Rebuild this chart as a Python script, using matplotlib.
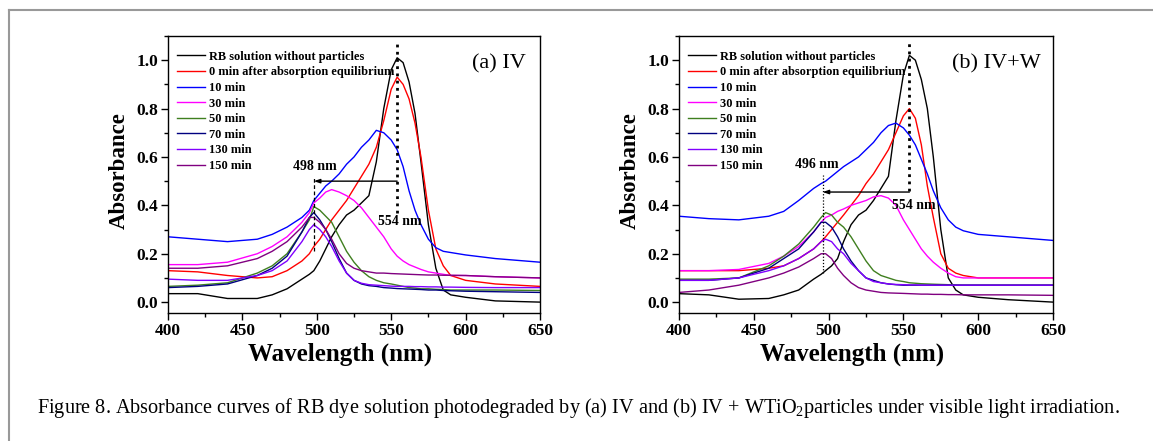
import matplotlib
matplotlib.use("Agg")
import matplotlib.pyplot as plt
import matplotlib.ticker as mticker
from matplotlib.lines import Line2D

plt.rcParams["font.family"] = ["Liberation Serif", "DejaVu Serif"]
plt.rcParams["mathtext.fontset"] = "custom"
plt.rcParams["mathtext.rm"] = "Liberation Serif"

# wavelength grid (nm) shared by all curves
wavelength = [400, 420, 440, 460, 470, 480, 490, 495, 498, 502, 506, 510, 515, 520, 525, 530,
              535, 540, 545, 550, 554, 558, 562, 566, 570, 575, 580, 585, 590, 600, 620, 650]

labels = ["RB solution without particles", "0 min after absorption equilibrium", "10 min",
          "30 min", "50 min", "70 min", "130 min", "150 min"]
colors = ["#000000", "#ff0000", "#0000ff", "#ff00ff", "#3f7f1f", "#000080", "#8000ff", "#800080"]

# ---- (a) IV ----
a_rb = [.035, .035, .015, .015, .03, .055, .095, .115, .13, .17, .22, .27, .32, .36, .38, .41,
        .44, .58, .80, .96, 1.01, .99, .91, .78, .58, .32, .14, .05, .03, .02, .005, .0]
a_0 = [.13, .125, .11, .1, .105, .13, .17, .2, .23, .26, .3, .34, .38, .42, .47, .52,
       .57, .64, .75, .88, .93, .9, .84, .74, .6, .38, .22, .15, .11, .09, .075, .065]
a_10 = [.27, .26, .25, .26, .28, .31, .35, .38, .42, .45, .48, .5, .53, .57, .6, .64,
        .67, .71, .70, .67, .63, .56, .46, .38, .32, .26, .225, .21, .205, .195, .18, .165]
a_30 = [.155, .155, .165, .2, .23, .27, .33, .37, .41, .43, .455, .465, .455, .44, .42, .39,
        .35, .31, .27, .22, .19, .17, .155, .145, .135, .125, .12, .115, .11, .11, .105, .1]
a_50 = [.065, .07, .08, .12, .15, .2, .29, .34, .395, .38, .355, .33, .27, .21, .165, .13,
        .105, .09, .08, .075, .07, .065, .06, .058, .055, .055, .053, .052, .05, .05, .05, .048]
a_70 = [.06, .065, .075, .11, .14, .19, .29, .35, .37, .34, .3, .25, .18, .12, .09, .075,
        .068, .065, .06, .058, .056, .055, .054, .053, .052, .05, .05, .048, .047, .045, .043, .04]
a_130 = [.095, .09, .09, .11, .13, .17, .25, .3, .32, .3, .27, .23, .17, .12, .09, .078,
         .072, .07, .068, .066, .065, .065, .065, .064, .064, .063, .063, .062, .062, .061, .06, .06]
a_150 = [.14, .14, .15, .18, .21, .25, .31, .35, .35, .33, .3, .26, .2, .16, .14, .13,
         .125, .12, .12, .118, .117, .116, .115, .114, .113, .112, .112, .111, .111, .11, .105, .1]

# ---- (b) IV+W ----
b_rb = [.035, .03, .012, .015, .03, .05, .095, .115, .13, .15, .18, .25, .32, .36, .38, .42,
        .47, .52, .75, .94, 1.02, 1.0, .92, .8, .6, .3, .1, .05, .03, .02, .01, .0]
b_0 = [.13, .13, .13, .14, .15, .18, .22, .25, .27, .3, .33, .36, .4, .44, .49, .53,
       .58, .63, .7, .77, .8, .76, .65, .48, .35, .2, .14, .12, .11, .1, .1, .1]
b_10 = [.355, .345, .34, .355, .375, .42, .47, .49, .5, .52, .54, .56, .58, .6, .63, .66,
        .7, .73, .74, .72, .69, .65, .59, .53, .46, .39, .34, .31, .295, .28, .27, .255]
b_30 = [.13, .13, .135, .16, .19, .23, .29, .33, .35, .36, .375, .385, .4, .41, .42, .435,
        .44, .43, .4, .34, .3, .26, .22, .19, .165, .14, .12, .105, .1, .1, .1, .1]
b_50 = [.095, .095, .1, .15, .19, .24, .31, .35, .37, .36, .33, .31, .27, .22, .17, .13,
        .11, .1, .09, .085, .08, .078, .076, .075, .074, .073, .072, .071, .07, .07, .07, .07]
b_70 = [.09, .09, .1, .14, .18, .22, .29, .33, .33, .31, .27, .22, .17, .13, .1, .09,
        .08, .075, .072, .07, .07, .07, .07, .07, .07, .07, .07, .07, .07, .07, .07, .07]
b_130 = [.09, .09, .1, .13, .15, .18, .22, .25, .26, .25, .22, .2, .16, .13, .1, .085,
         .08, .075, .073, .072, .071, .071, .07, .07, .07, .07, .07, .07, .07, .07, .07, .07]
b_150 = [.04, .05, .07, .1, .12, .145, .18, .2, .2, .18, .14, .11, .08, .06, .05, .045,
         .04, .038, .037, .036, .035, .034, .033, .033, .032, .032, .031, .031, .03, .03, .03, .028]

panel_a = [a_rb, a_0, a_10, a_30, a_50, a_70, a_130, a_150]
panel_b = [b_rb, b_0, b_10, b_30, b_50, b_70, b_130, b_150]

caption = ("Figure 8. Absorbance curves of RB dye solution photodegraded by (a) IV and (b) IV + "
           "WTiO$_2$particles under visible light irradiation.")


def draw_panel(ax, series, title, title_x, left_nm, left_ann, right_ann, arrow_y, dot_bottom,
               left_style):
    for vals, c, lab in zip(series, colors, labels):
        ax.plot(wavelength, vals, color=c, lw=1.0, label=lab)

    # peak shift markers
    ax.plot([554, 554], [dot_bottom, 1.08], color="black", lw=2.0, ls=(0, (1, 1.6)))
    ax.plot([left_nm, left_nm], left_ann[2], color="black", lw=0.9, ls=left_style)
    ax.annotate("", xy=(left_nm, arrow_y), xytext=(554, arrow_y),
                arrowprops=dict(arrowstyle="-|>,head_length=0.35,head_width=0.12",
                                color="black", lw=1.0, shrinkA=0, shrinkB=0))
    ax.text(left_ann[0], left_ann[1], f"{left_nm} nm", ha="center", va="center",
            fontsize=10, fontweight="bold")
    ax.text(right_ann[0], right_ann[1], "554 nm", ha="center", va="center",
            fontsize=10, fontweight="bold")

    ax.text(title_x, 0.9, title, transform=ax.transAxes, ha="center", va="center", fontsize=16)

    ax.set_xlim(400, 650)
    ax.set_ylim(-0.045, 1.1)
    ax.xaxis.set_major_locator(mticker.MultipleLocator(50))
    ax.xaxis.set_minor_locator(mticker.MultipleLocator(25))
    ax.yaxis.set_major_locator(mticker.MultipleLocator(0.2))
    ax.yaxis.set_minor_locator(mticker.MultipleLocator(0.1))
    ax.yaxis.set_major_formatter(mticker.FormatStrFormatter("%.1f"))
    ax.tick_params(which="major", direction="out", length=5, width=1.0, labelsize=12.5, pad=2)
    ax.tick_params(which="minor", direction="out", length=3, width=1.0)
    for lab in ax.get_xticklabels() + ax.get_yticklabels():
        lab.set_fontweight("bold")
    ax.spines[:].set_linewidth(1.0)

    ax.set_xlabel("Wavelength (nm)", fontsize=18, fontweight="bold", labelpad=2)
    ax.xaxis.set_label_coords(0.462, -0.105)
    ax.set_ylabel("Absorbance", fontsize=16.5, fontweight="bold", labelpad=5)
    ax.yaxis.label.set_y(0.516)

    leg = ax.legend(loc="upper left", bbox_to_anchor=(0.0, 0.978), frameon=False,
                    handlelength=2.3, handletextpad=0.3, labelspacing=0.29, borderaxespad=0.3,
                    prop={"weight": "bold", "size": 8.9})
    return leg


fig = plt.figure(figsize=(11.53, 4.41), dpi=100)
ax_a = fig.add_axes([168 / 1153, 1 - 313 / 441, 372 / 1153, 277 / 441])
ax_b = fig.add_axes([679 / 1153, 1 - 313 / 441, 374 / 1153, 277 / 441])

draw_panel(ax_a, panel_a, "(a) IV", 0.89, 498, (499, 0.56, [0.21, 0.52]), (556, 0.335),
           0.50, 0.37, (0, (3, 2)))
draw_panel(ax_b, panel_b, "(b) IV+W", 0.848, 496, (492, 0.567, [0.12, 0.525]), (557, 0.40),
           0.455, 0.46, (0, (1, 1.5)))

# page frame (only left and top edges visible)
fig.add_artist(Line2D([9 / 1153, 9 / 1153], [0, 1 - 10 / 441], color="#999999", lw=1.5))
fig.add_artist(Line2D([9 / 1153, 1], [1 - 10 / 441, 1 - 10 / 441], color="#999999", lw=1.5))

fig.text(37 / 1153, 1 - 408 / 441, caption, ha="left", va="center", fontsize=14.55)

fig.savefig("out.png", dpi=100)
